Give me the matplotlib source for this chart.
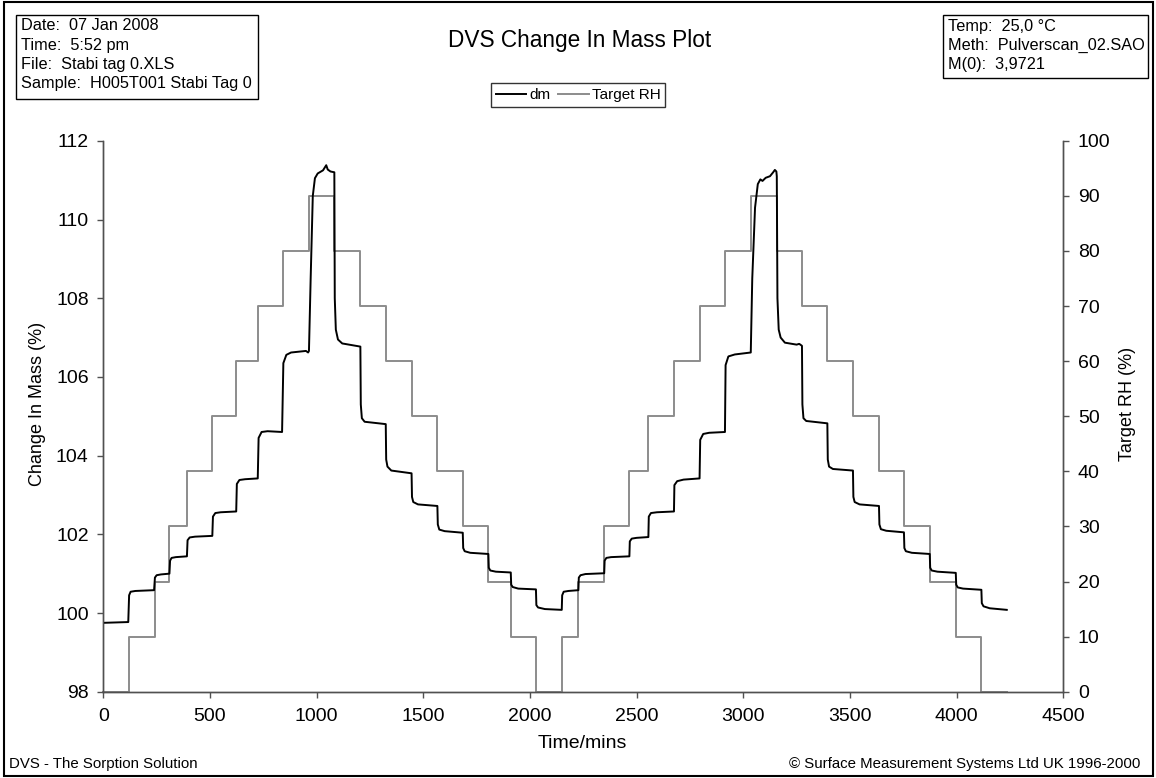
import matplotlib
matplotlib.use("Agg")
import matplotlib.pyplot as plt
from matplotlib.patches import Rectangle

plt.rcParams['font.family'] = ['Liberation Sans', 'DejaVu Sans']

# Target RH steps (time in mins where each level starts)
rh_time = [0, 120, 243, 309, 392, 511, 623, 724, 844, 964, 1083, 1205, 1324, 1445,
           1566, 1685, 1805, 1910, 2028, 2149, 2227, 2348, 2466, 2555, 2675, 2795,
           2914, 3035, 3157, 3275, 3394, 3514, 3636, 3753, 3874, 3996, 4116, 4235]
rh_level = [0, 10, 20, 30, 40, 50, 60, 70, 80, 90, 80, 70, 60, 50,
            40, 30, 20, 10, 0, 10, 20, 30, 40, 50, 60, 70,
            80, 90, 80, 70, 60, 50, 40, 30, 20, 10, 0, 0]

# Change in mass (dm)
dm_time = [0, 117,
           121, 128, 150, 238,
           242, 250, 270, 310,
           313, 320, 340, 392,
           395, 405, 430, 511,
           514, 525, 550, 623,
           626, 638, 665, 724,
           728, 742, 770, 838,
           844, 858, 880, 950, 960, 964,
           972, 982, 992, 1005, 1030, 1045, 1052, 1065, 1083,
           1085, 1090, 1100, 1120, 1205,
           1207, 1212, 1225, 1324,
           1326, 1332, 1350, 1445,
           1447, 1453, 1475, 1566,
           1568, 1575, 1600, 1685,
           1687, 1694, 1720, 1805,
           1807, 1814, 1840, 1910,
           1912, 1919, 1945, 2028,
           2030, 2038, 2070, 2149,
           2151, 2158, 2180, 2227,
           2229, 2237, 2260, 2348,
           2350, 2358, 2380, 2466,
           2468, 2477, 2500, 2555,
           2557, 2567, 2595, 2675,
           2677, 2690, 2720, 2795,
           2798, 2812, 2840, 2914,
           2917, 2930, 2960, 3035,
           3042, 3055, 3068, 3080, 3090, 3105, 3125, 3140, 3148, 3155, 3157,
           3160, 3166, 3175, 3195, 3250, 3262, 3275,
           3277, 3282, 3295, 3394,
           3396, 3402, 3420, 3514,
           3516, 3522, 3545, 3636,
           3638, 3645, 3670, 3753,
           3755, 3762, 3790, 3874,
           3876, 3883, 3910, 3996,
           3998, 4005, 4030, 4116,
           4118, 4126, 4155, 4235]
dm_mass = [99.75, 99.77,
           100.45, 100.54, 100.56, 100.58,
           100.90, 100.96, 100.98, 101.00,
           101.33, 101.40, 101.42, 101.44,
           101.85, 101.92, 101.94, 101.96,
           102.45, 102.54, 102.56, 102.58,
           103.28, 103.38, 103.40, 103.42,
           104.45, 104.60, 104.62, 104.60,
           106.35, 106.56, 106.62, 106.66, 106.62, 106.66,
           108.5, 110.6, 111.05, 111.17, 111.25, 111.38, 111.27, 111.22, 111.20,
           108.0, 107.2, 106.95, 106.85, 106.77,
           105.3, 104.95, 104.86, 104.80,
           103.9, 103.72, 103.62, 103.55,
           102.95, 102.82, 102.76, 102.72,
           102.25, 102.12, 102.08, 102.04,
           101.65, 101.57, 101.53, 101.50,
           101.15, 101.08, 101.05, 101.03,
           100.72, 100.66, 100.62, 100.60,
           100.20, 100.14, 100.10, 100.08,
           100.45, 100.54, 100.56, 100.58,
           100.90, 100.96, 100.99, 101.01,
           101.33, 101.40, 101.42, 101.44,
           101.82, 101.89, 101.91, 101.93,
           102.45, 102.54, 102.56, 102.58,
           103.25, 103.35, 103.39, 103.42,
           104.40, 104.55, 104.58, 104.60,
           106.30, 106.52, 106.57, 106.62,
           108.5, 110.3, 110.9, 111.02, 110.98, 111.06, 111.10, 111.20, 111.26, 111.22, 111.10,
           108.0, 107.2, 107.0, 106.87, 106.82, 106.84, 106.79,
           105.3, 104.95, 104.88, 104.82,
           103.9, 103.72, 103.66, 103.62,
           102.95, 102.82, 102.76, 102.72,
           102.25, 102.13, 102.09, 102.05,
           101.65, 101.57, 101.53, 101.50,
           101.15, 101.08, 101.05, 101.02,
           100.72, 100.65, 100.62, 100.59,
           100.25, 100.17, 100.12, 100.08]

W, H = 1156, 778
fig = plt.figure(figsize=(W / 100, H / 100), dpi=100)

def fx(px):
    return px / W

def fy(py):
    return 1 - py / H

ax = fig.add_axes([fx(103.3), fy(691.7), fx(1063.3) - fx(103.3), fy(140.8) - fy(691.7)])
ax2 = ax.twinx()
ax.set_zorder(ax2.get_zorder() + 1)
ax.patch.set_visible(False)

rh_line, = ax2.step(rh_time, rh_level, where='post', color='#8c8c8c', lw=1.4,
                    label='Target RH', clip_on=False)
dm_line, = ax.plot(dm_time, dm_mass, color='black', lw=1.4, label='dm')

ax.set_xlim(0, 4500)
ax.set_ylim(98, 112)
ax2.set_ylim(0, 100)
ax.set_xticks(range(0, 4501, 500))
ax.set_yticks(range(98, 113, 2))
ax2.set_yticks(range(0, 101, 10))

spine_col = '#505050'
for a in (ax, ax2):
    a.spines['top'].set_visible(False)
    for s in ('left', 'right', 'bottom'):
        a.spines[s].set_color(spine_col)
        a.spines[s].set_linewidth(1.0)
ax.tick_params(axis='both', direction='out', length=4.5, width=1, color=spine_col,
               labelsize=14)
ax.tick_params(axis='x', pad=7)
ax.tick_params(axis='y', pad=6)
ax2.tick_params(axis='y', direction='out', length=4.5, width=1, color=spine_col,
                labelsize=14, pad=6)

fig.text(fx(38), fy(404), 'Change In Mass (%)', rotation=90, ha='center', va='center',
         fontsize=13)
fig.text(fx(1128), fy(404), 'Target RH (%)', rotation=90, ha='center', va='center',
         fontsize=13)
fig.text(fx(582), fy(744), 'Time/mins', ha='center', va='center', fontsize=14)

fig.text(fx(580), fy(41), 'DVS Change In Mass Plot', ha='center', va='center', fontsize=16.3)

# info boxes
fig.add_artist(Rectangle((fx(16), fy(99)), fx(258) - fx(16), fy(15) - fy(99),
                         transform=fig.transFigure, fill=False, ec='black', lw=1))
left_info = ['Date:  07 Jan 2008', 'Time:  5:52 pm', 'File:  Stabi tag 0.XLS',
             'Sample:  H005T001 Stabi Tag 0']
for i, t in enumerate(left_info):
    fig.text(fx(21), fy(26 + i * 19.3), t, ha='left', va='center', fontsize=11.7)

fig.add_artist(Rectangle((fx(943), fy(78)), fx(1148) - fx(943), fy(15) - fy(78),
                         transform=fig.transFigure, fill=False, ec='black', lw=1))
right_info = ['Temp:  25,0 \u00b0C', 'Meth:  Pulverscan_02.SAO', 'M(0):  3,9721']
for i, t in enumerate(right_info):
    fig.text(fx(948), fy(26 + i * 19.3), t, ha='left', va='center', fontsize=11.7)

# outer border
fig.add_artist(Rectangle((fx(4), fy(776)), fx(1153) - fx(4), fy(2) - fy(776),
                         transform=fig.transFigure, fill=False, ec='black', lw=1.5))

leg = fig.legend([dm_line, rh_line], ['dm', 'Target RH'], loc='center',
                 bbox_to_anchor=(fx(578), fy(95)), ncol=2, fontsize=11,
                 frameon=True, fancybox=False, handlelength=2.0, handletextpad=0.2,
                 columnspacing=0.5, borderpad=0.3, borderaxespad=0)
leg.get_frame().set_edgecolor('black')
leg.get_frame().set_linewidth(1)

fig.text(fx(9), fy(764), 'DVS - The Sorption Solution', ha='left', va='center', fontsize=10.8)
fig.text(fx(1140), fy(764), '\u00a9 Surface Measurement Systems Ltd UK 1996-2000',
         ha='right', va='center', fontsize=10.8)

fig.savefig('out.png', dpi=100)
